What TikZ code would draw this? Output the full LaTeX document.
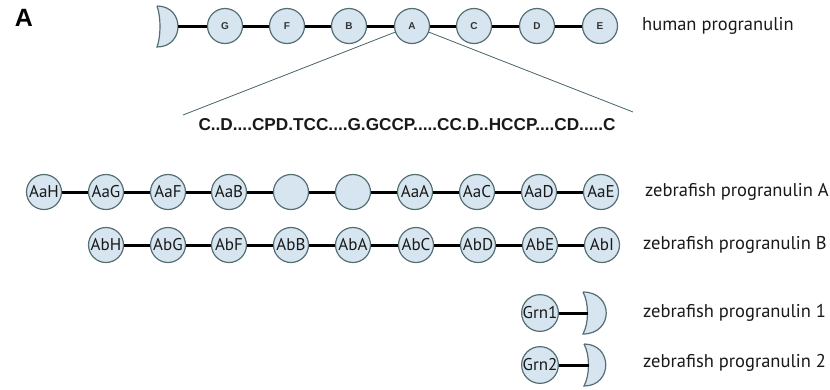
\documentclass[tikz,border=0pt]{standalone}
\usepackage{fontspec}
\setmainfont{PT Sans}
\newfontfamily\arialfont{Liberation Sans}
\definecolor{dombg}{RGB}{214,229,239}
\definecolor{domrim}{RGB}{84,110,116}
\definecolor{zoomln}{RGB}{70,100,105}
\tikzset{
  dom/.style={circle, minimum size=35pt, inner sep=0pt, fill=dombg, draw=domrim, line width=1.2pt},
  hdom/.style={dom, font=\arialfont\bfseries\fontsize{10}{10}\selectfont, text=black!80},
  zdom/.style={dom, font=\fontsize{17}{17}\selectfont, text=black!90},
  link/.style={line width=3pt, black},
  halfmoon/.style={fill=dombg, draw=domrim, line width=1.2pt},
  lbl/.style={anchor=west, font=\fontsize{18.5}{18.5}\selectfont, text=black!90, inner sep=0pt},
  zoomline/.style={draw=zoomln, line width=0.8pt},
}
\begin{document}
\begin{tikzpicture}[x=1pt,y=-1pt]
\useasboundingbox (0,0) rectangle (830,389);

% panel letter
\node[font=\arialfont\bfseries\fontsize{25}{25}\selectfont, inner sep=0pt] (panel) at (24,18) {A};

% ---- human progranulin ----
\draw[halfmoon] (157,6) .. controls (185,6) and (185,47) .. (157,47)
  .. controls (161,36) and (161,17) .. (157,6);
\coordinate (hcap) at (178,26);
\foreach \n/\x in {G/225,F/287,B/349,A/412,C/474,D/537,E/600}
  \node[hdom] (h\n) at (\x,26) {\n};
\draw[link] (hcap) -- (hG.west);
\draw[link] (hG.east) -- (hF.west);
\draw[link] (hF.east) -- (hB.west);
\draw[link] (hB.east) -- (hA.west);
\draw[link] (hA.east) -- (hC.west);
\draw[link] (hC.east) -- (hD.west);
\draw[link] (hD.east) -- (hE.west);
\node[lbl] (lh) at (642,26) {human progranulin};

% ---- expanded granulin A ----
\node[font=\arialfont\bfseries\fontsize{17.2}{17.2}\selectfont, inner sep=0pt, text=black!90] (seq) at (407,125)
  {C..D....CPD.TCC....G.GCCP.....CC.D..HCCP....CD.....C};
\coordinate (seqL) at (183,115);
\coordinate (seqR) at (633,112);
\draw[zoomline] (hA.200) -- (seqL);
\draw[zoomline] (hA.-20) -- (seqR);

% ---- zebrafish progranulin A ----
\foreach \i/\x/\t in {1/44/AaH,2/106/AaG,3/168/AaF,4/229/AaB,5/291/,6/353/,7/415/AaA,8/477/AaC,9/539/AaD,10/601/AaE}
  \node[zdom] (a\i) at (\x,192) {\t};
\foreach \i [evaluate=\i as \j using int(\i+1)] in {1,...,9}
  \draw[link] (a\i.east) -- (a\j.west);
\node[lbl] (la) at (645,192) {zebrafish progranulin A};

% ---- zebrafish progranulin B ----
\foreach \i/\x/\t in {1/106/AbH,2/168/AbG,3/229/AbF,4/291/AbB,5/353/AbA,6/416/AbC,7/478/AbD,8/540/AbE,9/602/AbI}
  \node[zdom] (b\i) at (\x,245) {\t};
\foreach \i [evaluate=\i as \j using int(\i+1)] in {1,...,8}
  \draw[link] (b\i.east) -- (b\j.west);
\node[lbl] (lb) at (643,245) {zebrafish progranulin B};

% ---- zebrafish progranulin 1 ----
\node[zdom, minimum size=33pt] (g1) at (540,313) {Grn1};
\draw[halfmoon] (583,292) .. controls (614,292) and (614,334) .. (583,334)
  .. controls (589,323) and (589,303) .. (583,292);
\coordinate (g1cap) at (587.5,313);
\draw[link] (g1.east) -- (g1cap);
\node[lbl] (l1) at (643,313) {zebrafish progranulin 1};

% ---- zebrafish progranulin 2 ----
\node[zdom, minimum size=33pt] (g2) at (540,365) {Grn2};
\draw[halfmoon] (584,344) .. controls (613,344) and (613,386) .. (584,386)
  .. controls (590,375) and (590,355) .. (584,344);
\coordinate (g2cap) at (588.5,365);
\draw[link] (g2.east) -- (g2cap);
\node[lbl] (l2) at (643,363) {zebrafish progranulin 2};
\end{tikzpicture}
\end{document}
